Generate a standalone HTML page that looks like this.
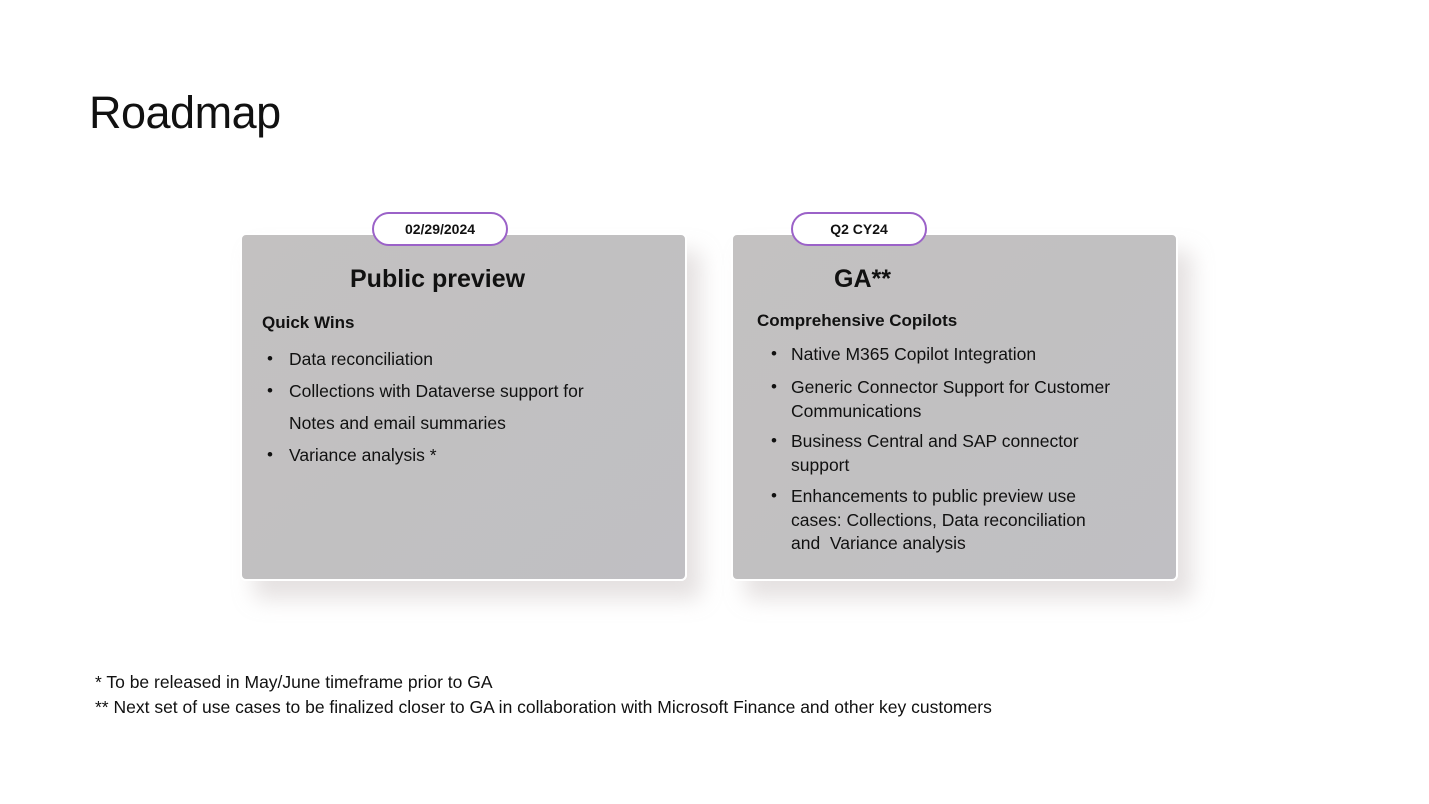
<!DOCTYPE html>
<html><head><meta charset="utf-8">
<style>
*{margin:0;padding:0;box-sizing:border-box}
body{width:1429px;height:804px;background:#fff;position:relative;overflow:hidden;font-family:"Liberation Sans",sans-serif;color:#111}
.abs{position:absolute;white-space:nowrap}
.card{position:absolute;top:233px;width:447px;height:348px;border-radius:6px;background:linear-gradient(135deg,#c3c1c1 0%,#c1c0c1 50%,#c0bfc3 100%);border:2px solid #fff;box-shadow:14px 18px 22px rgba(180,170,170,0.35)}
.pill{position:absolute;top:212px;height:34px;border:2px solid #9b62c8;border-radius:17px;background:#fff;font-size:14px;font-weight:bold;text-align:center;line-height:30px}
.h{font-size:25px;font-weight:bold;line-height:30px}
.sub{font-size:17px;font-weight:bold;line-height:20px}
.li{font-size:17.5px;line-height:20px}
.dot{font-size:17px;line-height:20px}
.fn{font-size:17.5px;line-height:20px}
</style></head><body>
<div class="abs" style="left:89px;top:86px;font-size:45px;letter-spacing:-0.5px;line-height:54px">Roadmap</div>

<div class="card" style="left:240px"></div>
<div class="card" style="left:731px"></div>

<div class="pill" style="left:372px;width:136px">02/29/2024</div>
<div class="pill" style="left:791px;width:136px">Q2 CY24</div>

<div class="abs h" style="left:350px;top:264px">Public preview</div>
<div class="abs sub" style="left:262px;top:313px">Quick Wins</div>
<div class="abs dot" style="left:267px;top:349px">•</div>
<div class="abs li" style="left:289px;top:349px">Data reconciliation</div>
<div class="abs dot" style="left:267px;top:381px">•</div>
<div class="abs li" style="left:289px;top:381px">Collections with Dataverse support for</div>
<div class="abs li" style="left:289px;top:413px">Notes and email summaries</div>
<div class="abs dot" style="left:267px;top:445px">•</div>
<div class="abs li" style="left:289px;top:445px">Variance analysis *</div>

<div class="abs h" style="left:834px;top:264px">GA**</div>
<div class="abs sub" style="left:757px;top:311px">Comprehensive Copilots</div>
<div class="abs dot" style="left:771px;top:344px">•</div>
<div class="abs li" style="left:791px;top:344px">Native M365 Copilot Integration</div>
<div class="abs dot" style="left:771px;top:377px">•</div>
<div class="abs li" style="left:791px;top:377px">Generic Connector Support for Customer</div>
<div class="abs li" style="left:791px;top:401px">Communications</div>
<div class="abs dot" style="left:771px;top:431px">•</div>
<div class="abs li" style="left:791px;top:431px">Business Central and SAP connector</div>
<div class="abs li" style="left:791px;top:455px">support</div>
<div class="abs dot" style="left:771px;top:486px">•</div>
<div class="abs li" style="left:791px;top:486px">Enhancements to public preview use</div>
<div class="abs li" style="left:791px;top:510px">cases: Collections, Data reconciliation</div>
<div class="abs li" style="left:791px;top:533px">and&nbsp; Variance analysis</div>

<div class="abs fn" style="left:95px;top:672px">* To be released in May/June timeframe prior to GA</div>
<div class="abs fn" style="left:95px;top:697px">** Next set of use cases to be finalized closer to GA in collaboration with Microsoft Finance and other key customers</div>
</body></html>
